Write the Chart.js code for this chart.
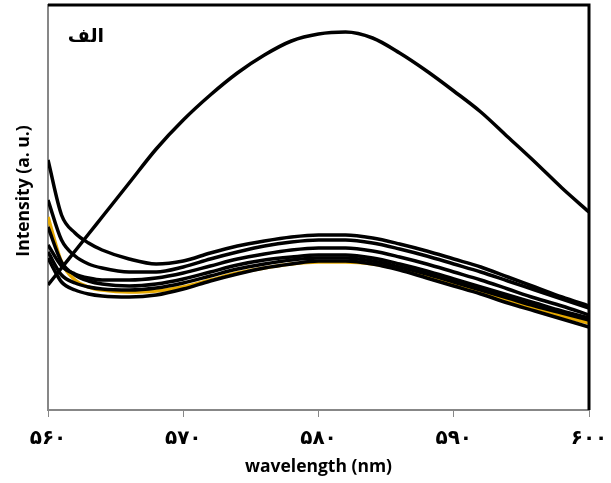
<!DOCTYPE html>
<html>
<head>
<meta charset="utf-8">
<script src="https://cdn.jsdelivr.net/npm/chart.js@4.4.1/dist/chart.umd.min.js"></script>
<style>
  html, body { margin: 0; padding: 0; background: #fff; }
  #wrap { width: 611px; height: 483px; }
</style>
</head>
<body>
<div id="wrap"><canvas id="c"></canvas></div>
<script>
// wavelength samples (nm) and x tick positions
const wavelengths = [560, 561, 562, 563, 564, 566, 568, 570, 572, 574, 576, 578, 580, 582, 584, 586, 588, 590, 592, 594, 596, 598, 600];
const xTicks = [560, 570, 580, 590, 600];

// intensities (a. u.)
const specA = [125, 142, 159, 176, 193, 227, 261, 290, 315, 337, 355, 369, 376, 378, 372, 357, 339, 319, 298, 273, 248, 222, 198];
const specB = [250, 195, 177, 167, 160, 151, 146, 149, 157, 164, 169, 173, 175, 175, 172, 166, 159, 151, 143, 133, 123, 113, 104];
const specC = [210, 170, 154, 146, 142, 138, 138, 143, 151, 158, 164, 168, 170, 170, 167, 161, 154, 146, 138, 129, 120, 111, 102];
const specD = [165, 144, 136, 132, 130, 130, 132, 137, 144, 151, 156, 160, 162, 162, 159, 153, 146, 138, 130, 121, 112, 104, 95];
const specE = [183, 148, 135, 129, 126, 124, 126, 131, 138, 145, 150, 153, 155, 155, 152, 146, 139, 131, 123, 115, 107, 99, 92];
const specF = [158, 135, 127, 123, 121, 120, 122, 127, 134, 141, 146, 150, 152, 152, 149, 143, 136, 128, 120, 112, 104, 97, 90];
const specG = [152, 128, 120, 116, 114, 113, 115, 121, 129, 136, 142, 146, 149, 149, 146, 140, 132, 124, 116, 107, 99, 91, 83];
const specY = [193, 148, 130, 123, 120, 118, 119, 123, 130, 137, 142, 146, 148, 148, 146, 141, 134, 126, 118, 110, 102, 94, 87];

const GREY = "#878787";
const FA_DIGITS = "۰۱۲۳۴۵۶۷۸۹";
const toFa = n => String(n).replace(/\d/g, d => FA_DIGITS[d]);

function series(values, color) {
  return {
    data: wavelengths.map((w, i) => ({ x: w, y: values[i] })),
    borderColor: color, borderWidth: 3.5, pointRadius: 0,
    fill: false, cubicInterpolationMode: "monotone",
  };
}

// plot frame (top/right in black), y title and panel letter
const decor = {
  id: "decor",
  afterDraw(chart) {
    const { ctx, chartArea: ca } = chart;
    ctx.save();
    ctx.strokeStyle = "#000";
    ctx.lineWidth = 3;
    ctx.beginPath();
    ctx.moveTo(ca.left, ca.top);
    ctx.lineTo(ca.right, ca.top);
    ctx.lineTo(ca.right, ca.bottom);
    ctx.stroke();

    ctx.fillStyle = "#000";
    ctx.textAlign = "center";
    ctx.textBaseline = "middle";
    ctx.font = "bold 17.5px 'Open Sans'";
    ctx.translate(24, 191);
    ctx.rotate(-Math.PI / 2);
    ctx.fillText("Intensity (a. u.)", 0, 0);
    ctx.restore();

    ctx.save();
    ctx.fillStyle = "#000";
    ctx.font = "bold 19px 'DejaVu Sans'";
    ctx.textAlign = "center";
    ctx.textBaseline = "middle";
    ctx.fillText("الف", 86, 37);
    ctx.restore();
  },
};

new Chart(document.getElementById("c"), {
  type: "line",
  data: {
    datasets: [
      series(specA, "#000"), series(specB, "#000"), series(specC, "#000"),
      series(specD, "#000"), series(specE, "#000"), series(specF, "#000"),
      series(specG, "#000"), series(specY, "#E5A800"),
    ],
  },
  options: {
    responsive: true, maintainAspectRatio: false, animation: false,
    layout: { padding: { left: 48, top: 5, right: 22, bottom: 5 } },
    plugins: { legend: { display: false }, tooltip: { enabled: false } },
    scales: {
      x: {
        type: "linear", min: 560, max: 600,
        afterBuildTicks: s => { s.ticks = xTicks.map(v => ({ value: v })); },
        afterFit: s => { s.height = 68; s.paddingLeft = 0; s.paddingRight = 0; },
        grid: { drawOnChartArea: false, color: GREY, tickLength: 7, lineWidth: 1 },
        border: { color: GREY, width: 2 },
        ticks: {
          color: "#000", padding: 10, maxRotation: 0,
          font: { family: "DejaVu Sans", weight: "bold", size: 20 },
          callback: v => toFa(v),
        },
        title: {
          display: true, text: "wavelength (nm)", color: "#000",
          font: { family: "Open Sans", weight: "bold", size: 17.5 },
          padding: { top: 12, bottom: 0 },
        },
      },
      y: {
        min: 0, max: 405,
        afterFit: s => { s.width = 0; },
        grid: { display: false },
        border: { color: GREY, width: 2 },
        ticks: { display: false },
      },
    },
  },
  plugins: [decor],
});
</script>
</body>
</html>
